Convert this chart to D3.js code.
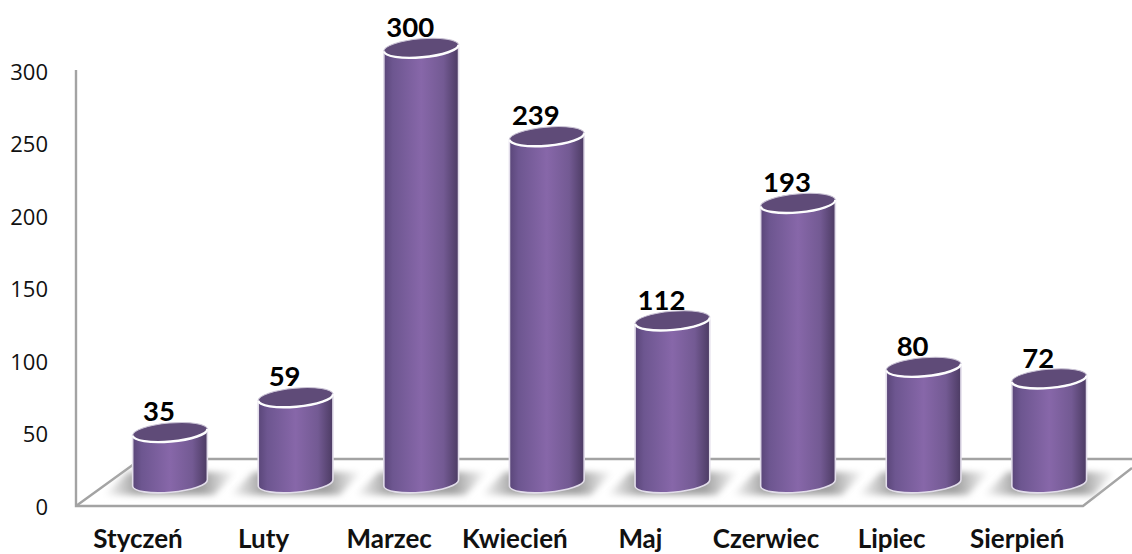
<!DOCTYPE html>
<html lang="pl">
<head>
  <meta charset="UTF-8">
  <title>Wykres miesięczny</title>
  <script src="https://d3js.org/d3.v7.min.js"></script>
  <style>
    html, body { margin: 0; padding: 0; background: #fff; }
    svg { display: block; font-family: 'Lato', sans-serif; }
    .y-axis text { font-family: 'Open Sans', sans-serif; font-size: 22px; fill: #111; }
    .cat-label { font-size: 26px; font-weight: 700; fill: #111; text-anchor: middle; }
    .val-label { font-size: 27.5px; font-weight: 700; fill: #000; text-anchor: middle; }
  </style>
</head>
<body>
  <div id="chart"></div>
  <script>
    const categories = ["Styczeń", "Luty", "Marzec", "Kwiecień", "Maj", "Czerwiec", "Lipiec", "Sierpień"];
    const values = [35, 59, 300, 239, 112, 193, 80, 72];
    const yTicks = [0, 50, 100, 150, 200, 250, 300];

    const width = 1132, height = 554;
    const axisX = 76, floorFront = 506, floorBack = 459;
    const barBase = 483;          // bars stand in the middle of the floor, not on the front edge

    const svg = d3.select("#chart").append("svg")
      .attr("width", width)
      .attr("height", height);

    const defs = svg.append("defs");

    const bodyGrad = defs.append("linearGradient").attr("id", "body");
    [[0, "#5a4679"], [0.12, "#6d5690"], [0.5, "#8767a9"], [0.8, "#735a93"], [1, "#4c3b63"]]
      .forEach(([o, c]) => bodyGrad.append("stop").attr("offset", o).attr("stop-color", c));

    const shadowGrad = defs.append("linearGradient").attr("id", "shadow");
    [[0, "#fff"], [0.25, "#a2a2a2"], [0.75, "#a2a2a2"], [1, "#fff"]]
      .forEach(([o, c]) => shadowGrad.append("stop").attr("offset", o).attr("stop-color", c));

    defs.append("filter").attr("id", "blur")
      .attr("x", "-20%").attr("y", "-40%").attr("width", "140%").attr("height", "180%")
      .append("feGaussianBlur").attr("stdDeviation", 3);

    const x = d3.scaleBand()
      .domain(categories)
      .range([107.2, 1112])
      .paddingInner(0.403)
      .paddingOuter(0.2015);

    const y = d3.scaleLinear().domain([0, 300]).range([floorFront + 1, 72]);
    // same units as the axis, lifted to the bar base
    const yBar = d3.scaleLinear().domain([0, 300]).range([barBase, barBase - 435]);

    // walls and floor
    const wall = svg.append("g")
      .attr("fill", "none")
      .attr("stroke", "#a3a3a3")
      .attr("stroke-width", 2.4);
    wall.append("path").attr("d", d3.line()([[axisX, 70], [axisX, floorFront], [1083, floorFront], [1132, 468]]));
    wall.append("path").attr("d", d3.line()([[axisX, floorFront], [141, floorBack], [1132, floorBack]]));

    // y axis, labels only
    const yAxis = svg.append("g")
      .attr("class", "y-axis")
      .attr("transform", `translate(${axisX},0)`)
      .call(d3.axisLeft(y).tickValues(yTicks).tickSize(0).tickPadding(28));
    yAxis.select(".domain").remove();

    const rx = x.bandwidth() / 2, ry = 9.3, tilt = -5;
    const rad = -tilt * Math.PI / 180;
    const ex = rx * Math.cos(rad), ey = rx * Math.sin(rad);
    const bx = ry * Math.sin(rad), by = ry * Math.cos(rad);

    // front half of the tilted ellipse, left end to right end through the lowest point
    const frontArc = cy => `A${rx},${ry} ${tilt} 0 0 ${bx},${cy + by}`
      + `A${rx},${ry} ${tilt} 0 0 ${ex},${cy - ey}`;

    const bars = svg.selectAll("g.bar")
      .data(categories.map((c, i) => ({ c, v: values[i] })))
      .enter().append("g")
      .attr("class", "bar")
      .attr("transform", d => `translate(${x(d.c) + rx},0)`);

    // floor shadow
    bars.append("path")
      .attr("fill", "url(#shadow)")
      .attr("filter", "url(#blur)")
      .attr("d", `M-66,${barBase + 12}L-42,${barBase - 11}H66L44,${barBase + 12}Z`);

    // body with a tilted elliptic base
    bars.append("path")
      .attr("fill", "url(#body)")
      .attr("stroke", "#e2ddea")
      .attr("stroke-width", 1.6)
      .attr("d", d => {
        const top = yBar(d.v);
        return `M${-ex},${top + ey}L${-ex},${barBase + ey}`
          + frontArc(barBase)
          + `L${ex},${top - ey}Z`;
      });

    // top cap: faint outline, bright front rim
    bars.append("ellipse")
      .attr("rx", rx)
      .attr("ry", ry)
      .attr("fill", "#5f4b78")
      .attr("stroke", "#c9c2d4")
      .attr("stroke-width", 1)
      .attr("transform", d => `translate(0,${yBar(d.v)}) rotate(${tilt})`);

    bars.append("path")
      .attr("fill", "none")
      .attr("stroke", "#fdfdfe")
      .attr("stroke-width", 2.4)
      .attr("d", d => {
        const top = yBar(d.v);
        return `M${-ex},${top + ey}` + frontArc(top);
      });

    bars.append("text")
      .attr("class", "val-label")
      .attr("x", -11)
      .attr("y", d => yBar(d.v) - 11)
      .text(d => d.v);

    svg.selectAll("text.cat-label")
      .data(categories)
      .enter().append("text")
      .attr("class", "cat-label")
      .attr("x", d => x(d) + rx - 32)
      .attr("y", 548)
      .text(d => d);
  </script>
</body>
</html>
